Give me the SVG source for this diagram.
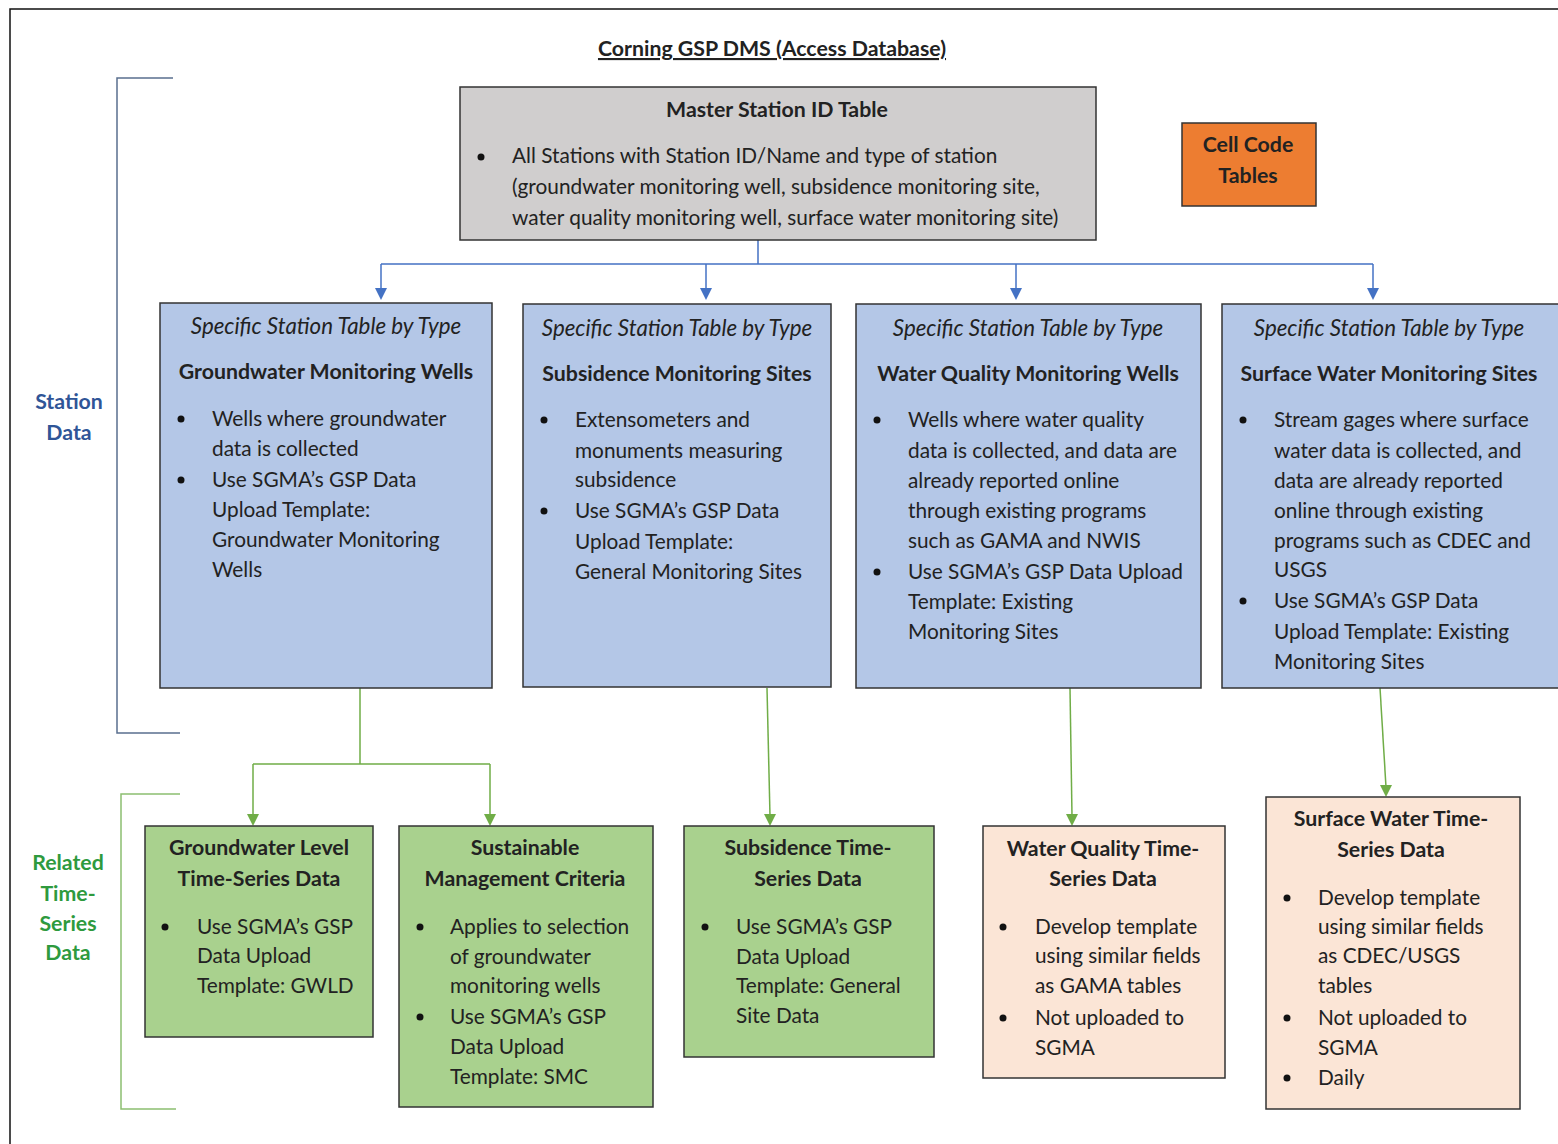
<svg xmlns="http://www.w3.org/2000/svg" width="1558" height="1144" viewBox="0 0 1558 1144">
<style>
text{font-family:Lato,"Liberation Sans",sans-serif;font-size:20.8px;fill:#222}
.b{font-weight:bold;font-size:21.3px}
.i{font-style:italic;font-size:22.3px}
.c{text-anchor:middle}
.box{stroke:#333;stroke-width:1.5}
.grey{fill:#d0cece}
.blue{fill:#b4c7e7}
.green{fill:#a9d18e}
.peach{fill:#fbe5d6}
.orange{fill:#ed7d31}
.bl{stroke:#4472c4;stroke-width:1.5;fill:none}
.gl{stroke:#70ad47;stroke-width:1.5;fill:none}
.dot{fill:#111}
</style>
<rect width="1558" height="1144" fill="#fff"/>
<path d="M10,1144 L10,9 L1558,9" stroke="#111" stroke-width="1.5" fill="none"/>

<g id="title"><text class="b c" x="772" y="56" text-decoration="underline">Corning GSP DMS (Access Database)</text></g>

<g id="brackets">
<path d="M173,78 L117,78 L117,733 L180,733" stroke="#5a6f8f" stroke-width="1.5" fill="none"/>
<path d="M180,794 L121,794 L121,1109 L176,1109" stroke="#8cbf70" stroke-width="1.5" fill="none"/>
</g>
<g id="label-station">
<text class="b c" x="69" y="409" style="fill:#2f5597">Station</text>
<text class="b c" x="69" y="440" style="fill:#2f5597">Data</text>
</g>
<g id="label-related">
<text class="b c" x="68" y="870" style="fill:#2e9a3e">Related</text>
<text class="b c" x="68" y="901" style="fill:#2e9a3e">Time-</text>
<text class="b c" x="68" y="931" style="fill:#2e9a3e">Series</text>
<text class="b c" x="68" y="960" style="fill:#2e9a3e">Data</text>
</g>

<g id="connectors">
<path class="bl" d="M758,240 L758,264 M381,264 L1373,264"/>
<path class="bl" d="M381,264 L381,290"/><path d="M375,288 L387,288 L381,300 Z" fill="#4472c4"/>
<path class="bl" d="M706,264 L706,290"/><path d="M700,288 L712,288 L706,300 Z" fill="#4472c4"/>
<path class="bl" d="M1016,264 L1016,290"/><path d="M1010,288 L1022,288 L1016,300 Z" fill="#4472c4"/>
<path class="bl" d="M1373,264 L1373,290"/><path d="M1367,288 L1379,288 L1373,300 Z" fill="#4472c4"/>
<path class="gl" d="M360,688 L360,764 M253,764 L490,764 M253,764 L253,816 M490,764 L490,816"/>
<path d="M247,814 L259,814 L253,826 Z" fill="#70ad47"/>
<path d="M484,814 L496,814 L490,826 Z" fill="#70ad47"/>
<path class="gl" d="M767,688 L770,816"/><path d="M764,814 L776,814 L770,826 Z" fill="#70ad47"/>
<path class="gl" d="M1070,688 L1072,816"/><path d="M1066,814 L1078,814 L1072,826 Z" fill="#70ad47"/>
<path class="gl" d="M1380,688 L1386,787"/><path d="M1380,785 L1392,785 L1386,797 Z" fill="#70ad47"/>
</g>

<g id="master">
<rect class="box grey" x="460" y="87" width="636" height="153"/>
<text class="b c" x="777" y="117">Master Station ID Table</text>
<circle class="dot" cx="481" cy="157" r="3.5"/>
<text x="512" y="163">All Stations with Station ID/Name and type of station</text>
<text x="512" y="194">(groundwater monitoring well, subsidence monitoring site,</text>
<text x="512" y="225">water quality monitoring well, surface water monitoring site)</text>
</g>

<g id="cellcode">
<rect class="box orange" x="1182" y="123" width="134" height="83"/>
<text class="b c" x="1248" y="152">Cell Code</text>
<text class="b c" x="1248" y="183">Tables</text>
</g>

<g id="gw-wells">
<rect class="box blue" x="160" y="303" width="332" height="385"/>
<text class="i c" x="326" y="334">Specific Station Table by Type</text>
<text class="b c" x="326" y="379">Groundwater Monitoring Wells</text>
<circle class="dot" cx="181" cy="419" r="3.5"/>
<text x="212" y="426">Wells where groundwater</text>
<text x="212" y="456">data is collected</text>
<circle class="dot" cx="181" cy="480" r="3.5"/>
<text x="212" y="487">Use SGMA’s GSP Data</text>
<text x="212" y="517">Upload Template:</text>
<text x="212" y="547">Groundwater Monitoring</text>
<text x="212" y="577">Wells</text>
</g>

<g id="subsidence-sites">
<rect class="box blue" x="523" y="304" width="308" height="383"/>
<text class="i c" x="677" y="336">Specific Station Table by Type</text>
<text class="b c" x="677" y="381">Subsidence Monitoring Sites</text>
<circle class="dot" cx="544" cy="420" r="3.5"/>
<text x="575" y="427">Extensometers and</text>
<text x="575" y="458">monuments measuring</text>
<text x="575" y="487">subsidence</text>
<circle class="dot" cx="544" cy="511" r="3.5"/>
<text x="575" y="518">Use SGMA’s GSP Data</text>
<text x="575" y="549">Upload Template:</text>
<text x="575" y="579">General Monitoring Sites</text>
</g>

<g id="wq-wells">
<rect class="box blue" x="856" y="304" width="345" height="384"/>
<text class="i c" x="1028" y="336">Specific Station Table by Type</text>
<text class="b c" x="1028" y="381">Water Quality Monitoring Wells</text>
<circle class="dot" cx="877" cy="420" r="3.5"/>
<text x="908" y="427">Wells where water quality</text>
<text x="908" y="458">data is collected, and data are</text>
<text x="908" y="488">already reported online</text>
<text x="908" y="518">through existing programs</text>
<text x="908" y="548">such as GAMA and NWIS</text>
<circle class="dot" cx="877" cy="572" r="3.5"/>
<text x="908" y="579">Use SGMA’s GSP Data Upload</text>
<text x="908" y="609">Template: Existing</text>
<text x="908" y="639">Monitoring Sites</text>
</g>

<g id="sw-sites">
<rect class="box blue" x="1222" y="304" width="345" height="384"/>
<text class="i c" x="1389" y="336">Specific Station Table by Type</text>
<text class="b c" x="1389" y="381">Surface Water Monitoring Sites</text>
<circle class="dot" cx="1243" cy="420" r="3.5"/>
<text x="1274" y="427">Stream gages where surface</text>
<text x="1274" y="458">water data is collected, and</text>
<text x="1274" y="488">data are already reported</text>
<text x="1274" y="518">online through existing</text>
<text x="1274" y="548">programs such as CDEC and</text>
<text x="1274" y="577">USGS</text>
<circle class="dot" cx="1243" cy="601" r="3.5"/>
<text x="1274" y="608">Use SGMA’s GSP Data</text>
<text x="1274" y="639">Upload Template: Existing</text>
<text x="1274" y="669">Monitoring Sites</text>
</g>

<g id="gwl-ts">
<rect class="box green" x="145" y="826" width="228" height="211"/>
<text class="b c" x="259" y="855">Groundwater Level</text>
<text class="b c" x="259" y="886">Time-Series Data</text>
<circle class="dot" cx="165" cy="927" r="3.5"/>
<text x="197" y="934">Use SGMA’s GSP</text>
<text x="197" y="963">Data Upload</text>
<text x="197" y="993">Template: GWLD</text>
</g>

<g id="smc">
<rect class="box green" x="399" y="826" width="254" height="281"/>
<text class="b c" x="525" y="855">Sustainable</text>
<text class="b c" x="525" y="886">Management Criteria</text>
<circle class="dot" cx="420" cy="927" r="3.5"/>
<text x="450" y="934">Applies to selection</text>
<text x="450" y="964">of groundwater</text>
<text x="450" y="993">monitoring wells</text>
<circle class="dot" cx="420" cy="1017" r="3.5"/>
<text x="450" y="1024">Use SGMA’s GSP</text>
<text x="450" y="1054">Data Upload</text>
<text x="450" y="1084">Template: SMC</text>
</g>

<g id="subsidence-ts">
<rect class="box green" x="684" y="826" width="250" height="231"/>
<text class="b c" x="808" y="855">Subsidence Time-</text>
<text class="b c" x="808" y="886">Series Data</text>
<circle class="dot" cx="705" cy="927" r="3.5"/>
<text x="736" y="934">Use SGMA’s GSP</text>
<text x="736" y="964">Data Upload</text>
<text x="736" y="993">Template: General</text>
<text x="736" y="1023">Site Data</text>
</g>

<g id="wq-ts">
<rect class="box peach" x="983" y="826" width="242" height="252"/>
<text class="b c" x="1103" y="856">Water Quality Time-</text>
<text class="b c" x="1103" y="886">Series Data</text>
<circle class="dot" cx="1003" cy="927" r="3.5"/>
<text x="1035" y="934">Develop template</text>
<text x="1035" y="963">using similar fields</text>
<text x="1035" y="993">as GAMA tables</text>
<circle class="dot" cx="1003" cy="1018" r="3.5"/>
<text x="1035" y="1025">Not uploaded to</text>
<text x="1035" y="1055">SGMA</text>
</g>

<g id="sw-ts">
<rect class="box peach" x="1266" y="797" width="254" height="312"/>
<text class="b c" x="1391" y="826">Surface Water Time-</text>
<text class="b c" x="1391" y="857">Series Data</text>
<circle class="dot" cx="1287" cy="898" r="3.5"/>
<text x="1318" y="905">Develop template</text>
<text x="1318" y="934">using similar fields</text>
<text x="1318" y="963">as CDEC/USGS</text>
<text x="1318" y="993">tables</text>
<circle class="dot" cx="1287" cy="1018" r="3.5"/>
<text x="1318" y="1025">Not uploaded to</text>
<text x="1318" y="1055">SGMA</text>
<circle class="dot" cx="1287" cy="1078" r="3.5"/>
<text x="1318" y="1085">Daily</text>
</g>
</svg>
